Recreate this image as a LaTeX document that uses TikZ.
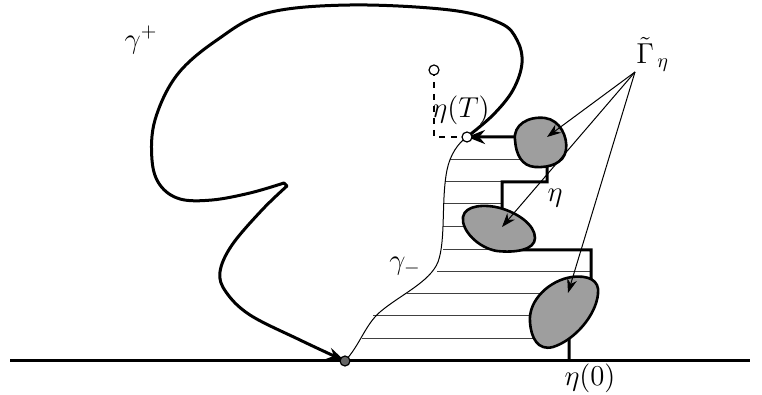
\documentclass[tikz,border=0pt]{standalone}
\usetikzlibrary{arrows.meta}
\begin{document}
\begin{tikzpicture}[x=0.5pt,y=-0.5pt,
  lbl/.style={inner sep=0pt,font=\fontsize{14}{16}\selectfont},
  hatch/.style={line width=0.5pt,black!75},
  blob/.style={fill=black!38,draw=black,line width=1.3pt},
  thickline/.style={line width=1.5pt},
  ptr/.style={line width=0.5pt,-{Stealth[length=7pt,width=5pt]}},
  dot/.style={circle,draw,fill=white,inner sep=0pt,minimum size=5pt,line width=0.6pt}]
\useasboundingbox (0,0) rectangle (762,395);
% coordinates
\coordinate (etaT) at (467,137);
\coordinate (start) at (345,361);
\coordinate (eta0) at (569,361);
\coordinate (src) at (635,72);
% hatching
\draw[hatch] (450,160) -- (520,160);
\draw[hatch] (445,182) -- (502,182);
\draw[hatch] (443,204) -- (502,204);
\draw[hatch] (443,227) -- (475,227);
\draw[hatch] (443,250) -- (515,250);
\draw[hatch] (437,272) -- (591,272);
\draw[hatch] (407,294) -- (550,294);
\draw[hatch] (373,316) -- (545,316);
\draw[hatch] (362,339) -- (545,339);
% gamma minus
\draw[line width=0.5pt] (start) .. controls (360,345) and (365,325) .. (380,312)
  .. controls (400,295) and (430,282) .. (438,262)
  .. controls (446,240) and (441,200) .. (447,170)
  .. controls (450,155) and (458,143) .. (etaT);
% eta path
\draw[thickline,-{Stealth[length=9pt,width=7pt]}] (eta0) -- (569,310) -- (585,290) -- (591,282) -- (591,250) -- (515,250) -- (505,235) -- (502,215) -- (502,182) -- (547,182) -- (547,150) -- (530,137) -- (etaT);
% blobs
\draw[blob] (515,140) .. controls (513,125) and (528,116) .. (545,118)
  .. controls (560,120) and (568,137) .. (566,150)
  .. controls (564,163) and (550,168) .. (535,167)
  .. controls (522,166) and (516,155) .. (515,140) -- cycle;
\draw[blob] (463,217) .. controls (465,205) and (485,204) .. (500,208)
  .. controls (518,213) and (535,225) .. (535,238)
  .. controls (535,250) and (515,253) .. (497,251)
  .. controls (478,248) and (461,230) .. (463,217) -- cycle;
\draw[blob] (530,322) .. controls (528,300) and (550,280) .. (572,277)
  .. controls (588,275) and (600,280) .. (598,294)
  .. controls (596,315) and (575,340) .. (553,347)
  .. controls (538,351) and (531,338) .. (530,322) -- cycle;
% pointers
\draw[ptr] (src) -- (547,137);
\draw[ptr] (src) -- (502,227);
\draw[ptr] (src) -- (568,293);
% gamma plus
\draw[thickline,-{Stealth[length=9pt,width=6pt]},line cap=round,line join=round] plot[smooth,tension=0.6] coordinates {
  (etaT) (493,115) (513,90) (522,63) (517,40) (500,23) (450,10) (350,5)
  (267,13) (217,40) (177,75) (155,120) (152,160) (160,185) (180,199) (212,200)
  (250,193) (284,183)}
  -- (287,186) plot[smooth,tension=0.6] coordinates {(287,186) (262,210) (232,245) (220,272)
  (226,292) (250,315) (300,340) (start)};
% ground
\draw[line width=1.5pt] (10,361) -- (start) -- (eta0) -- (750,361);
% dashed
\draw[dashed,line width=0.7pt] (434,70) -- (434,137) -- (etaT);
\node[dot] (top) at (434,70) {};
\node[dot] (etaTdot) at (etaT) {};
\node[dot,fill=black!60] (startdot) at (start) {};
% labels
\node[lbl] (gplus) at (141,40) {$\gamma^+$};
\node[lbl] (lT) at (461,110) {$\eta(T)$};
\node[lbl,anchor=south west] (lG) at (636,72) {$\tilde\Gamma_{\,\eta}$};
\node[lbl] (leta) at (555,198) {$\eta$};
\node[lbl] (lgm) at (405,266) {$\gamma_-$};
\node[lbl] (l0) at (590,378) {$\eta(0)$};
\end{tikzpicture}
\end{document}
